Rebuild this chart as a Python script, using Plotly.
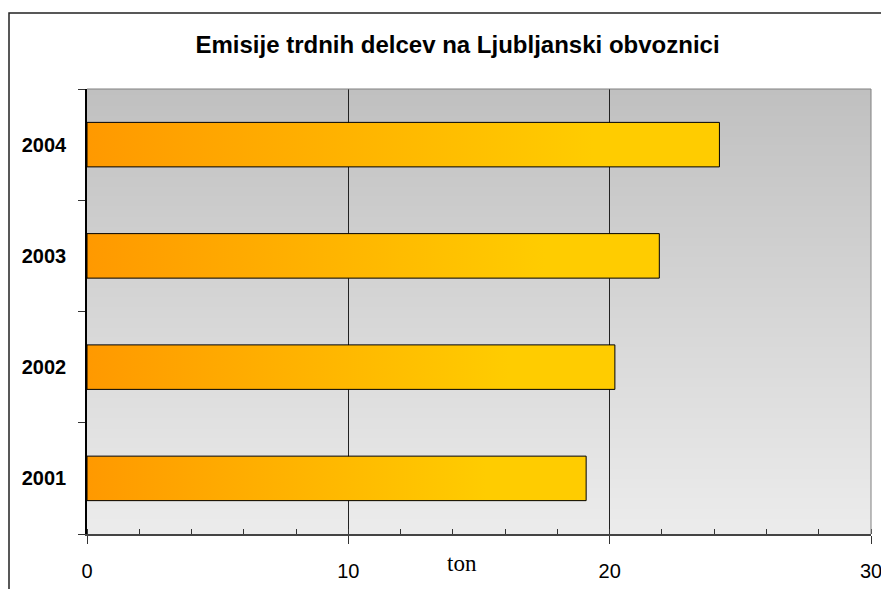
import base64, struct, zlib
import plotly.graph_objects as go

# ---- data ----
years = ["2001", "2002", "2003", "2004"]
emissions = [19.1, 20.2, 21.9, 24.2]
x_ticks = [0, 10, 20, 30]
title_text = "Emisije trdnih delcev na Ljubljanski obvoznici"
x_label = "ton"

# ---- vertical gradient PNG for plot background ----
def gradient_png(top, bottom, n=256):
    rows = b""
    for i in range(n):
        t = i / (n - 1)
        c = [round(top[k] + (bottom[k] - top[k]) * t) for k in range(3)]
        rows += b"\x00" + bytes(c)
    def chunk(tag, data):
        return struct.pack(">I", len(data)) + tag + data + struct.pack(">I", zlib.crc32(tag + data) & 0xffffffff)
    png = b"\x89PNG\r\n\x1a\n"
    png += chunk(b"IHDR", struct.pack(">IIBBBBB", 1, n, 8, 2, 0, 0, 0))
    png += chunk(b"IDAT", zlib.compress(rows))
    png += chunk(b"IEND", b"")
    return "data:image/png;base64," + base64.b64encode(png).decode()

bg_src = gradient_png((192, 192, 192), (236, 236, 236))

FONT = "Liberation Sans, Arial, sans-serif"
half = 0.2

fig = go.Figure()
for i, (yr, v) in enumerate(zip(years, emissions)):
    fig.add_trace(go.Scatter(
        x=[0, v, v, 0, 0],
        y=[i - half, i - half, i + half, i + half, i - half],
        mode="lines",
        fill="toself",
        fillgradient=dict(type="horizontal",
                          colorscale=[[0, "#ff9900"], [0.8, "#ffcc00"], [1, "#ffcc00"]]),
        line=dict(color="#000000", width=1),
        name=yr,
        hovertemplate=yr + ": %{x} ton<extra></extra>",
        showlegend=False,
    ))

fig.update_layout(
    width=881, height=589,
    margin=dict(l=87, r=10, t=89, b=55, autoexpand=False),
    paper_bgcolor="white",
    plot_bgcolor="rgba(0,0,0,0)",
    title=dict(text=title_text, x=457.5 / 881, xanchor="center",
               y=1 - 45 / 589, yanchor="middle", yref="container",
               font=dict(family=FONT, size=24, color="black", weight=700)),
    images=[dict(source=bg_src, xref="paper", yref="paper", x=0, y=1,
                 sizex=1, sizey=1, xanchor="left", yanchor="top",
                 sizing="stretch", layer="below")],
    shapes=[
        # top and right plot-area border (gray)
        dict(type="line", xref="paper", yref="paper", x0=0, x1=1, y0=1, y1=1,
             line=dict(color="#808080", width=1)),
        dict(type="line", xref="paper", yref="paper", x0=1, x1=1, y0=0, y1=1,
             line=dict(color="#808080", width=1)),
        # outer chart frame (cropped at right/bottom)
        dict(type="rect", xref="paper", yref="paper",
             x0=(9 - 87) / 784, x1=1.2, y0=-0.3, y1=1 + (89 - 13) / 445,
             line=dict(color="#222222", width=1.5), fillcolor="rgba(0,0,0,0)"),
    ],
    annotations=[dict(text=x_label, xref="paper", yref="paper",
                      x=(462 - 87) / 784, y=-(563 - 534) / 445,
                      xanchor="center", yanchor="middle", showarrow=False,
                      font=dict(family="Liberation Serif", size=23, color="black"))],
    xaxis=dict(range=[0, 30], tickmode="array", tickvals=x_ticks,
               ticks="outside", ticklen=8, tickcolor="#333333", tickwidth=1,
               showgrid=True, gridcolor="#222222", gridwidth=1,
               zeroline=False, showline=True, linecolor="#444444", linewidth=1.5,
               tickfont=dict(family=FONT, size=20, color="black"),
               ticklabelstandoff=10, ticklabeloverflow="allow", automargin=False,
               minor=dict(dtick=2, tick0=0, ticks="inside", ticklen=5,
                          tickcolor="#333333", showgrid=False),
               fixedrange=True),
    yaxis=dict(range=[-0.5, 3.5], tickmode="array", tickvals=list(range(len(years))),
               ticktext=years, ticks="", showgrid=False, zeroline=False,
               showline=True, linecolor="#000000", linewidth=1.5,
               tickfont=dict(family=FONT, size=20, color="black", weight=700),
               ticklabelstandoff=15, automargin=False,
               minor=dict(tick0=-0.5, dtick=1, ticks="outside", ticklen=7,
                          tickcolor="#333333", showgrid=False),
               fixedrange=True),
)

fig.write_html("out.html",
               config={"displayModeBar": False},
               post_script="document.body.style.margin='0';document.body.style.overflow='hidden';")
